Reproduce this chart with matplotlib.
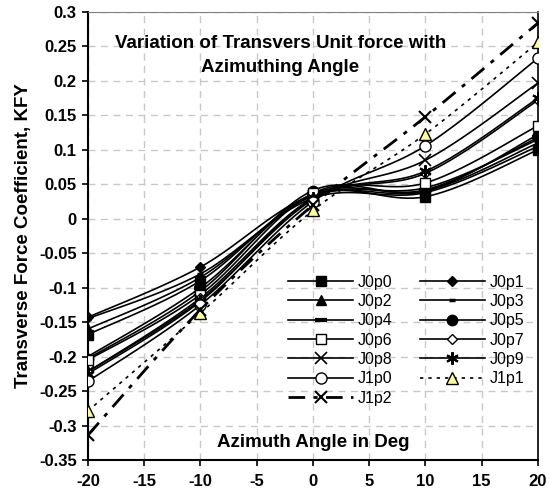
import numpy as np
import matplotlib
matplotlib.use("Agg")
import matplotlib.pyplot as plt

plt.rcParams['font.family'] = ['Liberation Sans', 'DejaVu Sans']
plt.rcParams['axes.unicode_minus'] = False

angles = [-20, -10, 0, 10, 20]
names = ["J0p0", "J0p1", "J0p2", "J0p3", "J0p4", "J0p5", "J0p6",
         "J0p7", "J0p8", "J0p9", "J1p0", "J1p1", "J1p2"]
J0p0 = [-0.168, -0.090, 0.035, 0.032, 0.100]
J0p1 = [-0.143, -0.070, 0.035, 0.045, 0.115]
J0p2 = [-0.160, -0.085, 0.033, 0.040, 0.110]
J0p3 = [-0.145, -0.080, 0.030, 0.038, 0.105]
J0p4 = [-0.200, -0.100, 0.036, 0.042, 0.118]
J0p5 = [-0.203, -0.105, 0.041, 0.040, 0.122]
J0p6 = [-0.205, -0.110, 0.037, 0.052, 0.135]
J0p7 = [-0.222, -0.115, 0.030, 0.066, 0.172]
J0p8 = [-0.222, -0.118, 0.028, 0.085, 0.197]
J0p9 = [-0.225, -0.120, 0.030, 0.069, 0.175]
J1p0 = [-0.236, -0.125, 0.025, 0.106, 0.233]
J1p1 = [-0.279, -0.137, 0.012, 0.123, 0.256]
J1p2 = [-0.314, -0.132, 0.020, 0.148, 0.284]
series = [J0p0, J0p1, J0p2, J0p3, J0p4, J0p5, J0p6, J0p7, J0p8, J0p9, J1p0, J1p1, J1p2]
yticks = [-0.35, -0.3, -0.25, -0.2, -0.15, -0.1, -0.05, 0, 0.05, 0.1, 0.15, 0.2, 0.25, 0.3]
ytick_labels = ["-0.35", "-0.3", "-0.25", "-0.2", "-0.15", "-0.1", "-0.05", "0",
                "0.05", "0.1", "0.15", "0.2", "0.25", "0.3"]
xticks = [-20, -15, -10, -5, 0, 5, 10, 15, 20]

styles = [
    dict(marker='s', mfc='black', ms=6.5),
    dict(marker='D', mfc='black', ms=5.5),
    dict(marker='^', mfc='black', ms=7.5),
    dict(marker='_', mfc='black', ms=5, mew=2.5),
    dict(marker='_', mfc='black', ms=8, mew=3),
    dict(marker='o', mfc='black', ms=7.5),
    dict(marker='s', mfc='white', ms=6.5),
    dict(marker='D', mfc='white', ms=5.5),
    dict(marker='x', mfc='black', ms=8, mew=1.2),
    dict(marker=(6, 2, 0), mfc='black', ms=9, mew=1.5),
    dict(marker='o', mfc='white', ms=8),
    dict(marker='^', mfc='#ffff99', ms=8, ls=(0, (2, 3))),
    dict(marker='x', mfc='black', ms=9, mew=1.5, ls=(0, (6, 3, 1.5, 3)), lw=2.0),
]


def smooth(x, y, n=20):
    x = np.asarray(x, float)
    y = np.asarray(y, float)
    P = np.column_stack([x, y])
    out = [P[0]]
    for i in range(len(P) - 1):
        p0 = P[i - 1] if i > 0 else P[i]
        p1 = P[i]
        p2 = P[i + 1]
        p3 = P[i + 2] if i + 2 < len(P) else P[i + 1]
        c1 = p1 + (p2 - p0) / 6.0
        c2 = p2 - (p3 - p1) / 6.0
        t = np.linspace(0, 1, n)[1:, None]
        seg = ((1 - t) ** 3) * p1 + 3 * ((1 - t) ** 2) * t * c1 + 3 * (1 - t) * t ** 2 * c2 + t ** 3 * p2
        out.extend(seg)
    out = np.array(out)
    return out[:, 0], out[:, 1]


fig = plt.figure(figsize=(5.49, 5.0), dpi=100)
ax = fig.add_axes([0.160, 0.080, 0.820, 0.896])

handles = []
for name, vals, st in zip(names, series, styles):
    st = dict(st)
    ls = st.pop('ls', '-')
    lw = st.pop('lw', 1.2)
    xs, ys = smooth(angles, vals)
    ax.plot(xs, ys, color='black', ls=ls, lw=lw, zorder=3)
    ax.plot(angles, vals, ls='none', color='black', mec='black', zorder=4, **st)
    h, = ax.plot([], [], color='black', ls=ls, lw=lw, mec='black', **st)
    handles.append(h)

ax.set_xlim(-20, 20)
ax.set_ylim(-0.35, 0.3)
ax.set_xticks(xticks)
ax.set_yticks(yticks)
ax.set_yticklabels(ytick_labels)
ax.grid(True, color='#c8c8c8', ls=(0, (5, 4)), lw=1.0)
ax.set_axisbelow(True)
for lab in ax.get_xticklabels() + ax.get_yticklabels():
    lab.set_fontweight('bold')
    lab.set_fontsize(12)
ax.tick_params(direction='out', length=4, width=1.2, colors='black')
ax.tick_params(axis='x', pad=6)
ax.tick_params(axis='y', pad=4)
ax.spines['left'].set_linewidth(1.5)
ax.spines['bottom'].set_linewidth(1.5)
ax.spines['right'].set_linewidth(1.2)
ax.spines['top'].set_color('#808080')

ax.set_ylabel('Transverse Force Coefficient, KFY', fontsize=13.5, fontweight='bold', labelpad=5)

ax.text(0.428, 0.903, 'Variation of Transvers Unit force with\nAzimuthing Angle',
        transform=ax.transAxes, ha='center', va='center', fontsize=13.5,
        fontweight='bold', linespacing=1.55)
ax.text(0.5, 0.038, 'Azimuth Angle in Deg', transform=ax.transAxes,
        ha='center', va='center', fontsize=13.5, fontweight='bold')

# reorder so the legend fills row by row
order = list(range(0, 13, 2)) + list(range(1, 13, 2))
leg = ax.legend([handles[i] for i in order], [names[i] for i in order], ncol=2,
                loc='upper left', bbox_to_anchor=(0.431, 0.428),
                frameon=False, fontsize=11.5, handlelength=4.06, handletextpad=0.3,
                columnspacing=1.7, labelspacing=0.27, borderaxespad=0)

fig.savefig('out.png', dpi=100)
